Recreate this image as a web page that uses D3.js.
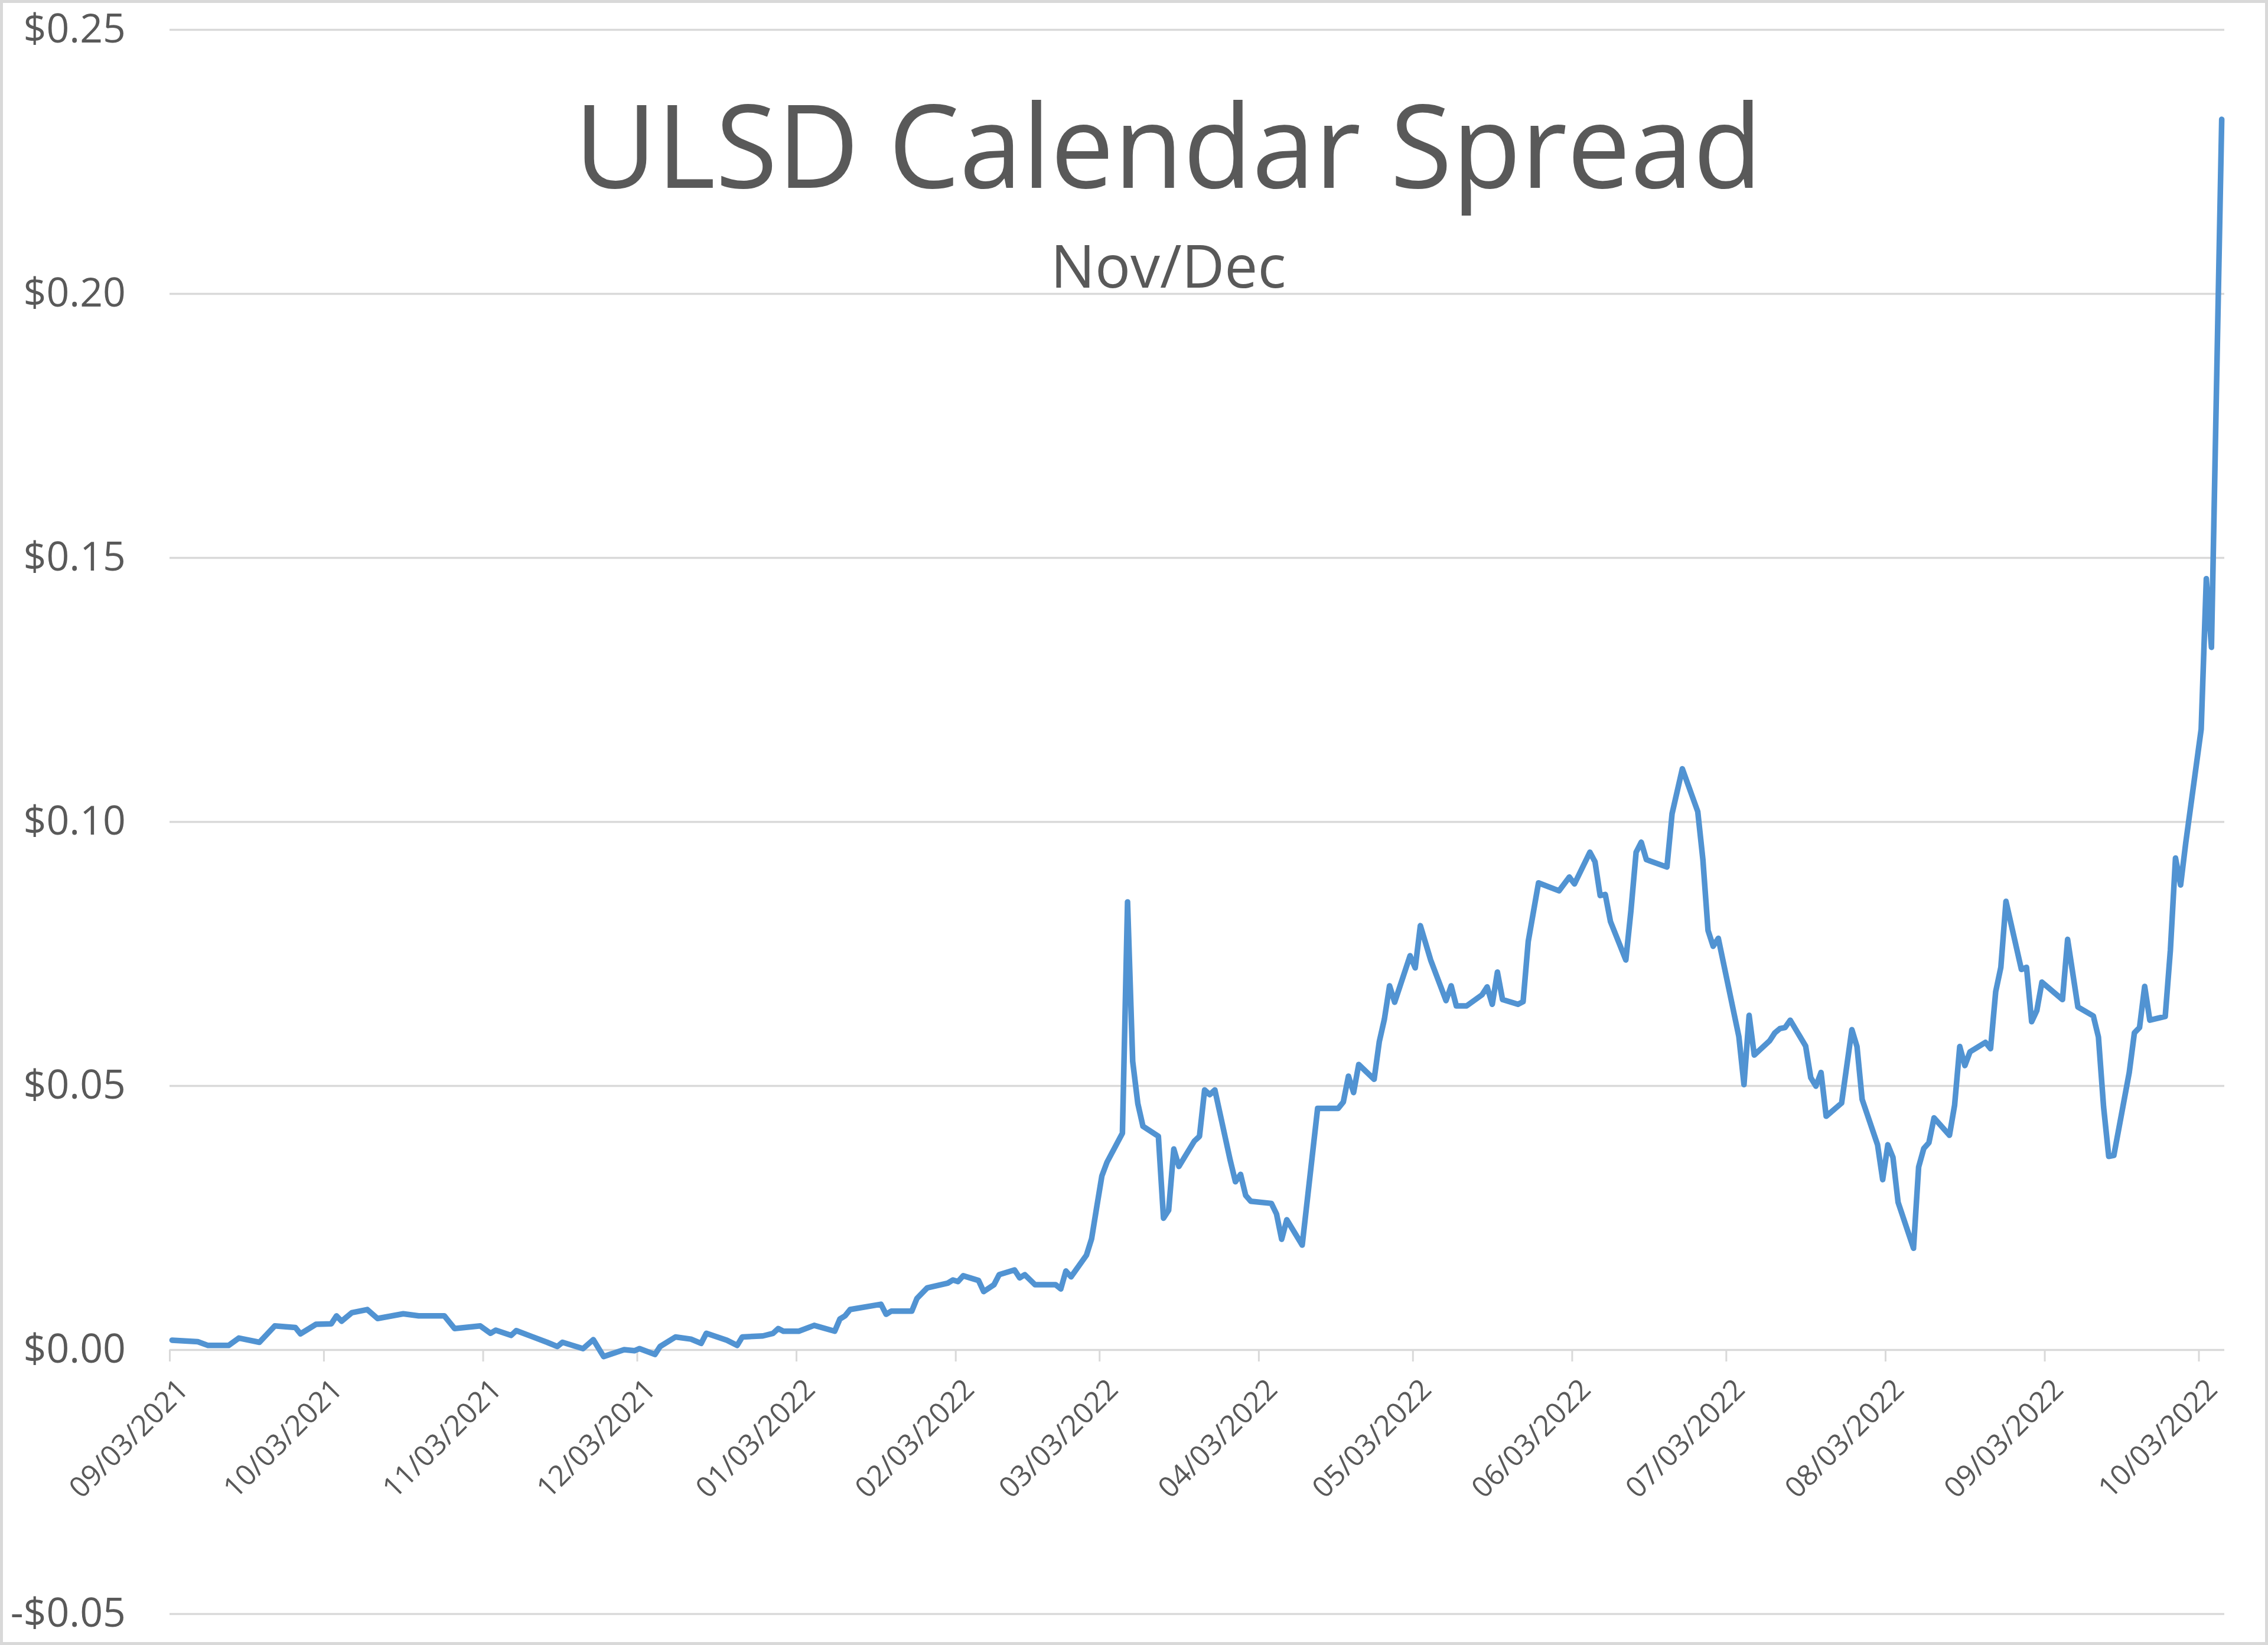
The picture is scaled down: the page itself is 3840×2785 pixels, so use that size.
<!DOCTYPE html>
<html><head><meta charset="utf-8">
<script src="https://cdn.jsdelivr.net/npm/d3@7"></script>
<style>html,body{margin:0;padding:0;background:#fff;} svg{display:block;}</style>
</head><body>
<svg id="chart" width="3840" height="2785"></svg>
<script>
// ---- DATA ----
const chartTitle = "ULSD Calendar Spread";
const chartSubtitle = "Nov/Dec";

const dates = [
"2021-09-03","2021-09-08","2021-09-10","2021-09-14","2021-09-16","2021-09-20","2021-09-23","2021-09-27","2021-09-28",
"2021-10-01","2021-10-04","2021-10-05","2021-10-06","2021-10-08","2021-10-11","2021-10-13","2021-10-18","2021-10-21","2021-10-26","2021-10-28",
"2021-11-02","2021-11-04","2021-11-05","2021-11-08","2021-11-09","2021-11-12","2021-11-15","2021-11-17","2021-11-18","2021-11-22","2021-11-24","2021-11-26","2021-11-30",
"2021-12-02","2021-12-03","2021-12-06","2021-12-07","2021-12-10","2021-12-13","2021-12-15","2021-12-16","2021-12-20","2021-12-22","2021-12-23","2021-12-27","2021-12-29","2021-12-30","2021-12-31",
"2022-01-03","2022-01-06","2022-01-10","2022-01-11","2022-01-12","2022-01-13","2022-01-19","2022-01-20","2022-01-21","2022-01-25","2022-01-26","2022-01-28",
"2022-02-01","2022-02-02","2022-02-03","2022-02-04","2022-02-07","2022-02-08","2022-02-10","2022-02-11","2022-02-14","2022-02-15","2022-02-16","2022-02-18","2022-02-22","2022-02-23","2022-02-24","2022-02-25","2022-02-28",
"2022-03-01","2022-03-02","2022-03-03","2022-03-04","2022-03-07","2022-03-08","2022-03-09","2022-03-10","2022-03-11","2022-03-14","2022-03-15","2022-03-16","2022-03-17","2022-03-18","2022-03-21","2022-03-22","2022-03-23","2022-03-24","2022-03-25","2022-03-28","2022-03-29","2022-03-30","2022-03-31",
"2022-04-01","2022-04-05","2022-04-06","2022-04-07","2022-04-08","2022-04-11","2022-04-14","2022-04-18","2022-04-19","2022-04-20","2022-04-21","2022-04-22","2022-04-25","2022-04-26","2022-04-27","2022-04-28","2022-04-29",
"2022-05-02","2022-05-03","2022-05-04","2022-05-06","2022-05-09","2022-05-10","2022-05-11","2022-05-13","2022-05-16","2022-05-17","2022-05-18","2022-05-19","2022-05-20","2022-05-23","2022-05-24","2022-05-25","2022-05-27","2022-05-31",
"2022-06-02","2022-06-03","2022-06-06","2022-06-07","2022-06-08","2022-06-09","2022-06-10","2022-06-13","2022-06-14","2022-06-15","2022-06-16","2022-06-17","2022-06-21","2022-06-22","2022-06-24","2022-06-27","2022-06-28","2022-06-29","2022-06-30",
"2022-07-01","2022-07-05","2022-07-06","2022-07-07","2022-07-08","2022-07-11","2022-07-12","2022-07-13","2022-07-14","2022-07-15","2022-07-18","2022-07-19","2022-07-20","2022-07-21","2022-07-22","2022-07-25","2022-07-27","2022-07-28","2022-07-29",
"2022-08-01","2022-08-02","2022-08-03","2022-08-04","2022-08-05","2022-08-08","2022-08-09","2022-08-10","2022-08-11","2022-08-12","2022-08-15","2022-08-16","2022-08-17","2022-08-18","2022-08-19","2022-08-22","2022-08-23","2022-08-24","2022-08-25","2022-08-26","2022-08-29","2022-08-30","2022-08-31",
"2022-09-01","2022-09-02","2022-09-06","2022-09-07","2022-09-09","2022-09-12","2022-09-13","2022-09-14","2022-09-15","2022-09-16","2022-09-19","2022-09-20","2022-09-21","2022-09-22","2022-09-23","2022-09-26","2022-09-27","2022-09-28","2022-09-29","2022-09-30",
"2022-10-03","2022-10-04","2022-10-05","2022-10-07"
];

const spread = [
0.0018,0.0015,0.0008,0.0008,0.0022,0.0014,0.0045,0.0042,0.0030,
0.0048,0.0049,0.0064,0.0054,0.0070,0.0076,0.0059,0.0068,0.0064,0.0064,0.0040,
0.0045,0.0031,0.0037,0.0027,0.0036,0.0025,0.0014,0.0006,0.0014,0.0002,0.0019,-0.0013,0.0000,
-0.0002,0.0002,-0.0009,0.0006,0.0024,0.0020,0.0012,0.0031,0.0018,0.0008,0.0024,0.0026,0.0031,0.0040,0.0035,
0.0035,0.0046,0.0035,0.0058,0.0064,0.0076,0.0086,0.0067,0.0073,0.0073,0.0097,0.0117,
0.0126,0.0132,0.0129,0.0140,0.0131,0.0110,0.0123,0.0142,0.0151,0.0136,0.0142,0.0123,0.0123,0.0115,0.0149,0.0138,0.0179,
0.0210,0.0270,0.0329,0.0355,0.0410,0.0848,0.0546,0.0466,0.0423,0.0404,0.0249,0.0264,0.0380,0.0347,0.0395,0.0404,0.0492,0.0483,0.0492,0.0358,0.0318,0.0332,0.0292,
0.0281,0.0277,0.0257,0.0209,0.0246,0.0198,0.0457,0.0457,0.0469,0.0518,0.0487,0.0540,0.0512,0.0583,0.0626,0.0689,0.0658,
0.0746,0.0723,0.0803,0.0738,0.0661,0.0689,0.0651,0.0651,0.0672,0.0687,0.0654,0.0715,0.0663,0.0654,0.0659,0.0773,0.0884,0.0869,
0.0895,0.0882,0.0942,0.0924,0.0860,0.0862,0.0811,0.0738,0.0832,0.0942,0.0961,0.0928,0.0914,0.1015,0.1100,0.1019,0.0928,0.0794,0.0764,
0.0779,0.0593,0.0502,0.0633,0.0558,0.0585,0.0600,0.0608,0.0610,0.0624,0.0575,0.0515,0.0499,0.0525,0.0442,0.0467,0.0606,0.0574,0.0474,
0.0388,0.0322,0.0388,0.0364,0.0279,0.0192,0.0346,0.0381,0.0392,0.0439,0.0406,0.0463,0.0574,0.0538,0.0564,0.0582,0.0570,0.0678,0.0724,0.0849,0.0720,0.0724,0.0621,
0.0642,0.0696,0.0663,0.0777,0.0649,0.0632,0.0592,0.0460,0.0366,0.0368,0.0525,0.0600,0.0610,0.0688,0.0624,0.0631,0.0756,0.0931,0.0880,0.0960,
0.1175,0.1460,0.1330,0.2330
];

const yTickValues = [-0.05, 0, 0.05, 0.10, 0.15, 0.20, 0.25];
const yTickLabels = ["-$0.05","$0.00","$0.05","$0.10","$0.15","$0.20","$0.25"];

const xTickDates = ["2021-09-03","2021-10-03","2021-11-03","2021-12-03","2022-01-03","2022-02-03","2022-03-03",
"2022-04-03","2022-05-03","2022-06-03","2022-07-03","2022-08-03","2022-09-03","2022-10-03"];
const xTickLabels = ["09/03/2021","10/03/2021","11/03/2021","12/03/2021","01/03/2022","02/03/2022","03/03/2022",
"04/03/2022","05/03/2022","06/03/2022","07/03/2022","08/03/2022","09/03/2022","10/03/2022"];

const xDomain = ["2021-09-03","2022-10-08"];

// ---- LAYOUT ----
const W = 3840, H = 2785;
const plot = {left: 287, right: 3766, top: 50, bottom: 2732};
const textColor = "#595959";
const gridColor = "#D9D9D9";
const lineColor = "#5193D2";
const font = "'Open Sans', 'Noto Sans', sans-serif";

const parse = d3.utcParse("%Y-%m-%d");
const data = dates.map((d, i) => ({date: parse(d), v: spread[i]}));

const svg = d3.select("#chart");

svg.append("rect").attr("x", 0).attr("y", 0).attr("width", W).attr("height", H).attr("fill", "#fff");
svg.append("rect").attr("x", 2.5).attr("y", 2.5).attr("width", W - 5).attr("height", H - 5)
  .attr("fill", "none").attr("stroke", gridColor).attr("stroke-width", 5);

const x = d3.scaleUtc().domain(xDomain.map(parse)).range([plot.left, plot.right]);
const y = d3.scaleLinear().domain([-0.05, 0.25]).range([plot.bottom, plot.top]);

// y axis + gridlines
const yAxis = d3.axisLeft(y)
  .tickValues(yTickValues)
  .tickSize(-(plot.right - plot.left))
  .tickPadding(74)
  .tickFormat((d, i) => yTickLabels[i]);

const gy = svg.append("g").attr("transform", `translate(${plot.left},0)`).call(yAxis);
gy.select(".domain").remove();
gy.selectAll(".tick line").attr("stroke", gridColor).attr("stroke-width", 3.5);
gy.selectAll(".tick text")
  .attr("fill", textColor)
  .style("font-family", font)
  .style("font-size", "68px");

// x axis (ticks + rotated labels)
const xAxis = d3.axisBottom(x)
  .tickValues(xTickDates.map(parse))
  .tickSize(20)
  .tickFormat((d, i) => xTickLabels[i]);

const gx = svg.append("g").attr("transform", `translate(0,${y(0)})`).call(xAxis);
gx.select(".domain").remove();
gx.selectAll(".tick line").attr("stroke", gridColor).attr("stroke-width", 3);
gx.selectAll(".tick text")
  .attr("x", 0).attr("y", 0).attr("dy", "0.35em")
  .attr("transform", "translate(22,58) rotate(-45)")
  .style("text-anchor", "end")
  .attr("fill", textColor)
  .style("font-family", font)
  .style("font-size", "49px");

// line
const halfDay = 12 * 3600 * 1000;
const line = d3.line()
  .x(d => x(new Date(d.date.getTime() + halfDay)))
  .y(d => y(d.v));

svg.append("path")
  .datum(data)
  .attr("d", line)
  .attr("fill", "none")
  .attr("stroke", lineColor)
  .attr("stroke-width", 9.5)
  .attr("stroke-linejoin", "round")
  .attr("stroke-linecap", "round");

// titles
const t = svg.append("text")
  .attr("x", 1978).attr("y", 318)
  .attr("text-anchor", "middle")
  .attr("fill", textColor)
  .style("font-family", font)
  .style("font-size", "196px")
  .text(chartTitle);
const tw = t.node().getComputedTextLength();
if (Math.abs(tw - 2011) > 10) t.attr("textLength", 2011).attr("lengthAdjust", "spacingAndGlyphs");

svg.append("text")
  .attr("x", 1978).attr("y", 487)
  .attr("text-anchor", "middle")
  .attr("fill", textColor)
  .style("font-family", font)
  .style("font-size", "100px")
  .text(chartSubtitle);
</script>
</body></html>
